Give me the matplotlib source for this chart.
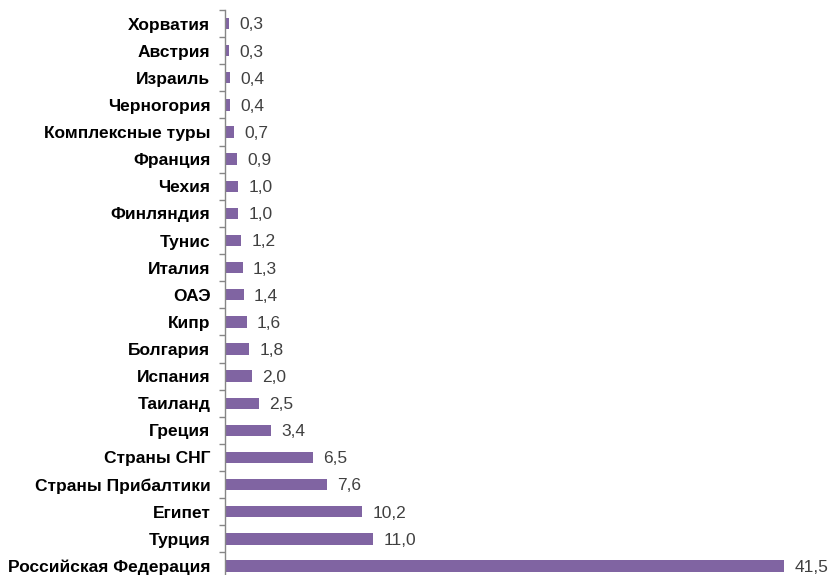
import matplotlib
matplotlib.use("Agg")
import matplotlib.pyplot as plt
from matplotlib.ticker import FixedLocator, NullFormatter

categories = ["Хорватия", "Австрия", "Израиль", "Черногория", "Комплексные туры",
              "Франция", "Чехия", "Финляндия", "Тунис", "Италия", "ОАЭ", "Кипр",
              "Болгария", "Испания", "Таиланд", "Греция", "Страны СНГ",
              "Страны Прибалтики", "Египет", "Турция", "Российская Федерация"]
values = [0.3, 0.3, 0.4, 0.4, 0.7, 0.9, 1.0, 1.0, 1.2, 1.3, 1.4, 1.6, 1.8, 2.0,
          2.5, 3.4, 6.5, 7.6, 10.2, 11.0, 41.5]

plt.rcParams['font.family'] = ['Liberation Sans', 'DejaVu Sans']

fig = plt.figure(figsize=(8.31, 5.75), dpi=100)
left = 225 / 831
ax = fig.add_axes([left, -4.5 / 575, 592.7 / 831, 569.5 / 575])

n = len(categories)
ypos = list(range(n))
bar_color = "#8064A2"
ax.barh(ypos, values, height=0.42, color=bar_color)
ax.set_xlim(0, 44)
ax.set_ylim(n - 0.5, -0.5)

for s in ["top", "right", "bottom"]:
    ax.spines[s].set_visible(False)
ax.spines["left"].set_color("#868686")
ax.spines["left"].set_linewidth(1.0)
ax.set_xticks([])

ax.set_yticks(ypos)
ax.set_yticklabels(categories, fontsize=12.5, fontweight="bold", color="#000000")
ax.tick_params(axis="y", which="major", length=0, pad=10.5)
ax.yaxis.set_minor_locator(FixedLocator([i - 0.5 for i in range(n + 1)]))
ax.yaxis.set_minor_formatter(NullFormatter())
ax.tick_params(axis="y", which="minor", length=4, color="#868686", width=1.0)

for y, v in zip(ypos, values):
    ax.annotate(f"{v:.1f}".replace(".", ","), xy=(v, y), xytext=(7.3, -1),
                textcoords="offset points", va="center", ha="left",
                fontsize=12.5, color="#404040", annotation_clip=False)

fig.savefig("out.png", dpi=100)
